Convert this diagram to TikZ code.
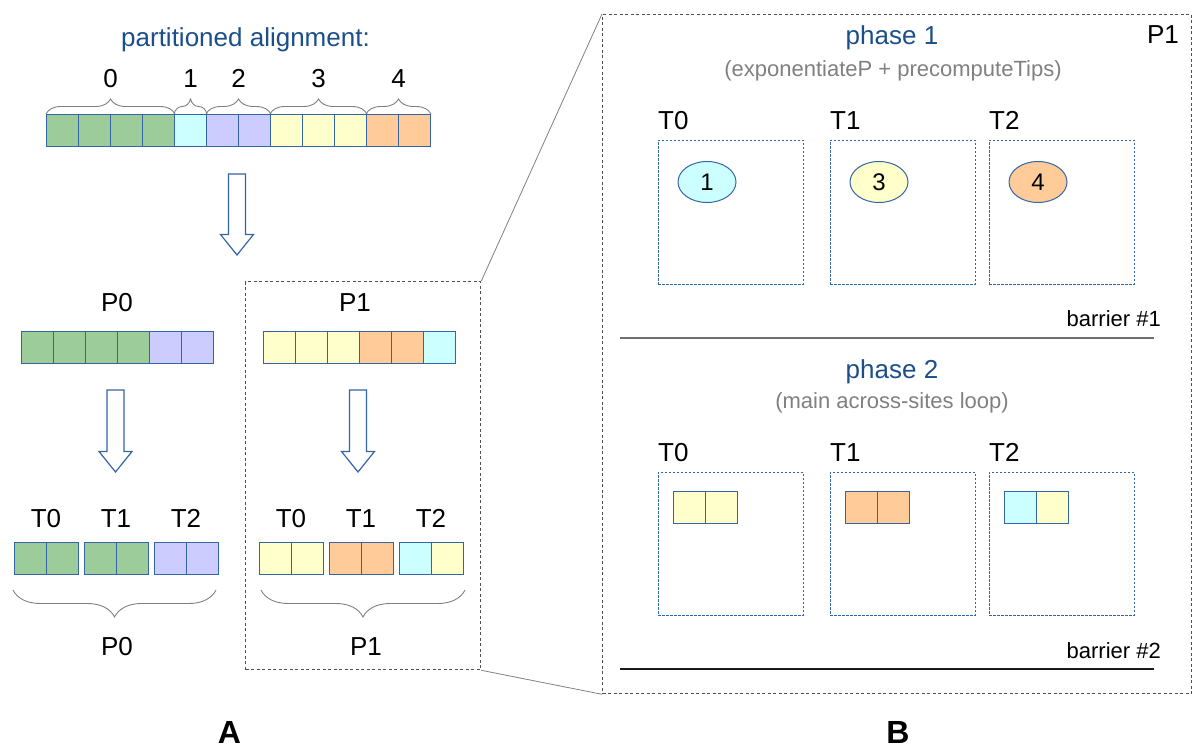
\documentclass[tikz,border=0pt]{standalone}
\usepackage{fontspec}
\setmainfont{Liberation Sans}
\usepackage{tikz}
\usetikzlibrary{positioning, decorations.pathreplacing, shapes.geometric}

\definecolor{cellline}{HTML}{3465A4}
\definecolor{grn}{HTML}{9CCC99}
\definecolor{cyn}{HTML}{CCFFFF}
\definecolor{lav}{HTML}{CCCCFF}
\definecolor{ylw}{HTML}{FFFFCC}
\definecolor{org}{HTML}{FFCC99}
\definecolor{titleblue}{HTML}{1B4F8A}
\definecolor{boxgray}{HTML}{505050}
\definecolor{subgray}{HTML}{808080}
\definecolor{barone}{HTML}{707070}
\definecolor{bartwo}{HTML}{1A1A1A}

\begin{document}
\begin{tikzpicture}[x=1pt, y=-1pt,
  lbl/.style={inner sep=0, font=\fontsize{26}{30}\selectfont},
  phase/.style={inner sep=0, text=titleblue, font=\fontsize{26}{30}\selectfont},
  sub/.style={inner sep=0, text=subgray, font=\fontsize{22}{26}\selectfont},
  note/.style={inner sep=0, font=\fontsize{22}{26}\selectfont},
  cell/.style={draw=cellline, line width=1pt, minimum size=32pt, inner sep=0, anchor=north west},
  thread/.style={draw=cellline, dash pattern=on 2.5pt off 1.5pt, line width=0.9pt, minimum width=145pt, minimum height=144pt, inner sep=0, anchor=north west},
  job/.style={ellipse, draw=cellline, line width=1pt, minimum width=58pt, minimum height=41pt, inner sep=0, font=\fontsize{24}{28}\selectfont},
  zoombox/.style={draw=boxgray, dash pattern=on 3pt off 2.5pt, line width=1.3pt, inner sep=0, anchor=north west},
  curly/.style={decorate, draw=subgray, line width=0.9pt, decoration={brace, #1}},
  blockarrow/.style={draw=cellline, fill=white, line width=1.2pt, line join=miter},
  tag/.style={inner sep=0, font=\bfseries\fontsize{32}{36}\selectfont},
]
  \useasboundingbox (0,0) rectangle (1192,749);

  % A: the alignment and its split
  \node[phase, anchor=base] (title) at (245.5,47) {partitioned alignment:};
  \foreach \c [count=\i from 0] in {grn,grn,grn,grn,cyn,lav,lav,ylw,ylw,ylw,org,org}
    \node[cell, fill=\c] (a\i) at (46+32*\i,114) {};
  \foreach \f/\t/\n in {0/3/0, 4/4/1, 5/6/2, 7/9/3, 10/11/4} {
    \draw[curly={amplitude=15pt}] (a\f.north west) -- (a\t.north east);
    \path (a\f.north west) -- (a\t.north east) node[midway, lbl, anchor=base, yshift=26pt] (part\n) {\n};
  }

  \foreach \ax/\ay/\az in {237/174/255, 115.5/390/472, 358/390/472}
    \draw[blockarrow] (\ax-8.5,\ay) -- (\ax+8.5,\ay) -- (\ax+8.5,\az-20.5) -- (\ax+16.5,\az-20.5)
      -- (\ax,\az) -- (\ax-16.5,\az-20.5) -- (\ax-8.5,\az-20.5) -- cycle;

  \node[lbl, anchor=base] (procA) at (117,311.5) {P0};
  \node[lbl, anchor=base] (procB) at (355,311.5) {P1};
  \foreach \c [count=\i from 0] in {grn,grn,grn,grn,lav,lav}
    \node[cell, fill=\c] (pa\i) at (21+32*\i,331) {};
  \foreach \c [count=\i from 0] in {ylw,ylw,ylw,org,org,cyn}
    \node[cell, fill=\c] (pb\i) at (263+32*\i,331) {};

  \foreach \x/\c/\d/\t in {14/grn/grn/0, 84/grn/grn/1, 154/lav/lav/2} {
    \node[cell, fill=\c] (pat\t-a) at (\x,542) {};
    \node[cell, fill=\d] (pat\t-b) at (\x+32,542) {};
    \node[lbl, anchor=base] (paT\t) at (\x+32,527.7) {T\t};
  }
  \foreach \x/\c/\d/\t in {259/ylw/ylw/0, 329/org/org/1, 399/cyn/ylw/2} {
    \node[cell, fill=\c] (pbt\t-a) at (\x,542) {};
    \node[cell, fill=\d] (pbt\t-b) at (\x+32,542) {};
    \node[lbl, anchor=base] (pbT\t) at (\x+32,527.7) {T\t};
  }
  \draw[curly={mirror, amplitude=27pt}] (13,590) -- (216,590);
  \draw[curly={mirror, amplitude=27pt}] (261,590) -- (465,590);
  \node[lbl, anchor=base] (procAb) at (117,655) {P0};
  \node[lbl, anchor=base] (procBb) at (366,655) {P1};

  % zoom into P1
  \node[zoombox, minimum width=235pt, minimum height=388pt] (boxA) at (245,281) {};
  \node[zoombox, minimum width=589pt, minimum height=679pt] (boxB) at (602,14) {};
  \draw[subgray, line width=0.8pt] (boxA.north east) -- (boxB.north west);
  \draw[subgray, line width=0.8pt] (boxA.south east) -- (boxB.south west);

  % B: phase 1
  \node[phase, anchor=base] (ph1) at (892,45) {phase 1};
  \node[sub, anchor=base] (ph1sub) at (893,77) {(exponentiateP + precomputeTips)};
  \node[lbl, anchor=base] (procBr) at (1163,44) {P1};
  \foreach \x/\c/\n/\t in {658/cyn/1/0, 830/ylw/3/1, 989/org/4/2} {
    \node[thread] (ph1t\t) at (\x,140) {};
    \node[lbl, above right=10pt and 0pt of ph1t\t.north west] (ph1T\t) {T\t};
    \node[job, fill=\c] (job\n) at (\x+49,182) {\n};
  }
  \coordinate (bar1w) at (620,338);
  \coordinate (bar1e) at (1154,338);
  \draw[barone, line width=1.5pt] (bar1w) -- (bar1e);
  \node[note, anchor=base east] (bar1) at (1161,326) {barrier \#1};

  % B: phase 2
  \node[phase, anchor=base] (ph2) at (892,378) {phase 2};
  \node[sub, anchor=base] (ph2sub) at (892,408) {(main across-sites loop)};
  \foreach \x/\c/\d/\t in {658/ylw/ylw/0, 830/org/org/1, 989/cyn/ylw/2} {
    \node[thread, minimum height=143pt] (ph2t\t) at (\x,472) {};
    \node[lbl, above right=10pt and 0pt of ph2t\t.north west] (ph2T\t) {T\t};
    \node[cell, fill=\c] (ph2t\t-a) at (\x+15,491) {};
    \node[cell, fill=\d] (ph2t\t-b) at (\x+47,491) {};
  }
  \coordinate (bar2w) at (620,669);
  \coordinate (bar2e) at (1154,669);
  \draw[bartwo, line width=1.5pt] (bar2w) -- (bar2e);
  \node[note, anchor=base east] (bar2) at (1161,658) {barrier \#2};

  \node[tag, anchor=base] (figA) at (229.5,743) {A};
  \node[tag, anchor=base] (figB) at (898,743) {B};
\end{tikzpicture}
\end{document}
